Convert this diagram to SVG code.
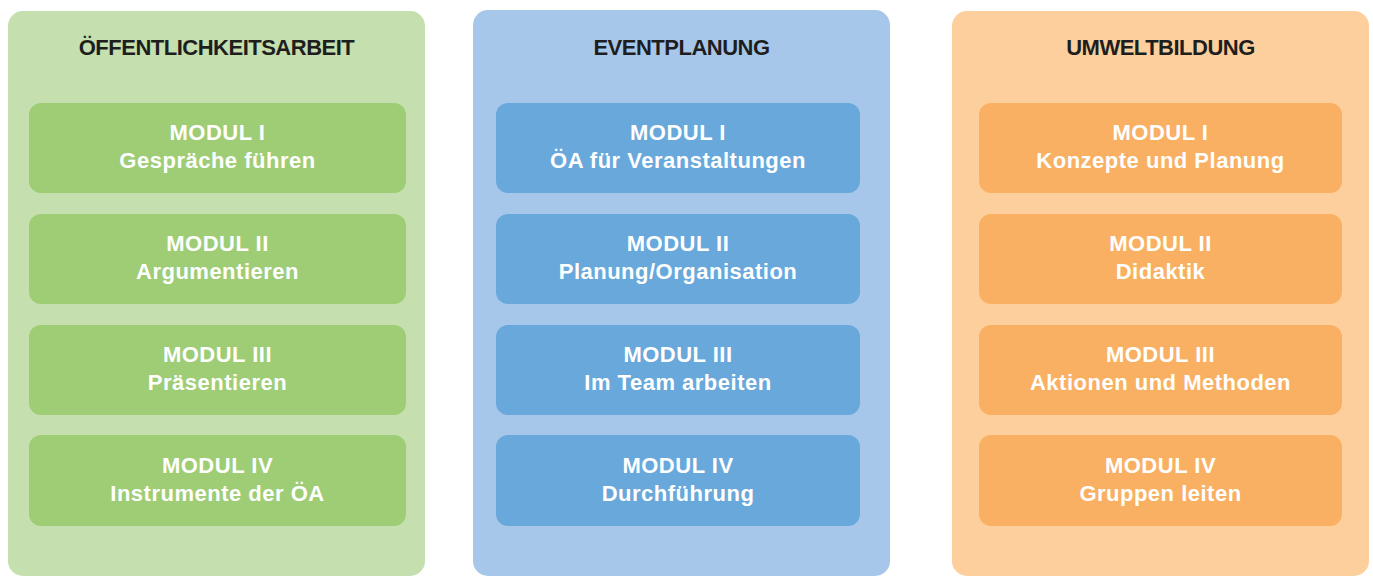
<svg xmlns="http://www.w3.org/2000/svg" width="1373" height="577" viewBox="0 0 1373 577">
  <style>
    .title { font-family: "Liberation Sans", Arial, sans-serif; font-weight: bold; font-size: 22px; letter-spacing: -0.5px; fill: #1e1e1e; text-anchor: middle; }
    .mod { font-family: "Liberation Sans", Arial, sans-serif; font-weight: bold; font-size: 22px; letter-spacing: 0.5px; fill: #ffffff; text-anchor: middle; }
    .g-bg { fill: #c5dfae; } .g-box { fill: #9ecd76; }
    .b-bg { fill: #a7c7ea; } .b-box { fill: #68a8db; }
    .o-bg { fill: #fdcf9c; } .o-box { fill: #f9b062; }
  </style>
  <rect width="1373" height="577" fill="#ffffff"/>

  <!-- Öffentlichkeitsarbeit -->
  <g id="col-oeffentlichkeitsarbeit">
    <rect class="g-bg" x="8" y="11" width="417" height="565" rx="15"/>
    <text class="title" x="216.5" y="55">ÖFFENTLICHKEITSARBEIT</text>
  </g>
  <g id="oa-modul-1"><rect class="g-box" x="29" y="103" width="377" height="90" rx="12"/>
    <text class="mod" x="217.5" y="140">MODUL I</text><text class="mod" x="217.5" y="168">Gespräche führen</text></g>
  <g id="oa-modul-2"><rect class="g-box" x="29" y="214" width="377" height="90" rx="12"/>
    <text class="mod" x="217.5" y="251">MODUL II</text><text class="mod" x="217.5" y="279">Argumentieren</text></g>
  <g id="oa-modul-3"><rect class="g-box" x="29" y="325" width="377" height="90" rx="12"/>
    <text class="mod" x="217.5" y="362">MODUL III</text><text class="mod" x="217.5" y="390">Präsentieren</text></g>
  <g id="oa-modul-4"><rect class="g-box" x="29" y="435" width="377" height="91" rx="12"/>
    <text class="mod" x="217.5" y="473">MODUL IV</text><text class="mod" x="217.5" y="501">Instrumente der ÖA</text></g>

  <!-- Eventplanung -->
  <g id="col-eventplanung">
    <rect class="b-bg" x="473" y="10" width="417" height="566" rx="15"/>
    <text class="title" x="681.5" y="55">EVENTPLANUNG</text>
  </g>
  <g id="ev-modul-1"><rect class="b-box" x="496" y="103" width="364" height="90" rx="12"/>
    <text class="mod" x="678" y="140">MODUL I</text><text class="mod" x="678" y="168">ÖA für Veranstaltungen</text></g>
  <g id="ev-modul-2"><rect class="b-box" x="496" y="214" width="364" height="90" rx="12"/>
    <text class="mod" x="678" y="251">MODUL II</text><text class="mod" x="678" y="279">Planung/Organisation</text></g>
  <g id="ev-modul-3"><rect class="b-box" x="496" y="325" width="364" height="90" rx="12"/>
    <text class="mod" x="678" y="362">MODUL III</text><text class="mod" x="678" y="390">Im Team arbeiten</text></g>
  <g id="ev-modul-4"><rect class="b-box" x="496" y="435" width="364" height="91" rx="12"/>
    <text class="mod" x="678" y="473">MODUL IV</text><text class="mod" x="678" y="501">Durchführung</text></g>

  <!-- Umweltbildung -->
  <g id="col-umweltbildung">
    <rect class="o-bg" x="952" y="11" width="417" height="565" rx="15"/>
    <text class="title" x="1160.5" y="55">UMWELTBILDUNG</text>
  </g>
  <g id="ub-modul-1"><rect class="o-box" x="979" y="103" width="363" height="90" rx="12"/>
    <text class="mod" x="1160.5" y="140">MODUL I</text><text class="mod" x="1160.5" y="168">Konzepte und Planung</text></g>
  <g id="ub-modul-2"><rect class="o-box" x="979" y="214" width="363" height="90" rx="12"/>
    <text class="mod" x="1160.5" y="251">MODUL II</text><text class="mod" x="1160.5" y="279">Didaktik</text></g>
  <g id="ub-modul-3"><rect class="o-box" x="979" y="325" width="363" height="90" rx="12"/>
    <text class="mod" x="1160.5" y="362">MODUL III</text><text class="mod" x="1160.5" y="390">Aktionen und Methoden</text></g>
  <g id="ub-modul-4"><rect class="o-box" x="979" y="435" width="363" height="91" rx="12"/>
    <text class="mod" x="1160.5" y="473">MODUL IV</text><text class="mod" x="1160.5" y="501">Gruppen leiten</text></g>

  <g id="connectors"/>
</svg>
